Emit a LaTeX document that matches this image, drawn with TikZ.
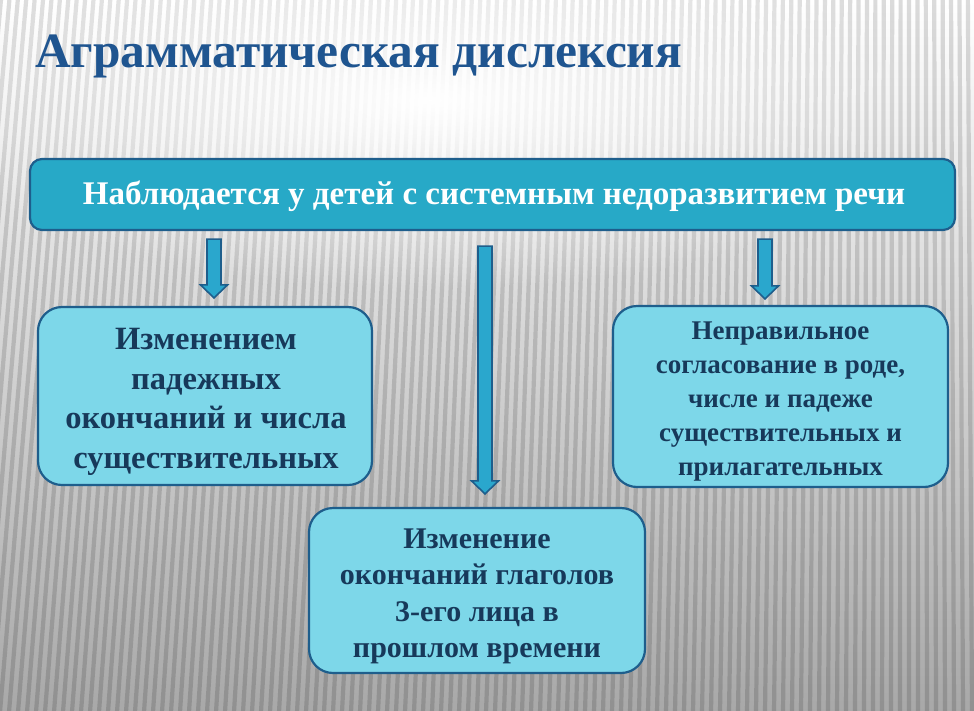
\documentclass[tikz,border=0pt]{standalone}
\usepackage{fontspec}
\usepackage{graphicx}
\setmainfont{Liberation Serif}
\usetikzlibrary{fadings,calc}
\definecolor{bordc}{HTML}{1E5E8C}
\definecolor{barfill}{HTML}{27A9C7}
\definecolor{boxfill}{HTML}{7DD7E9}
\definecolor{boxtext}{HTML}{17395A}
\definecolor{titlec}{HTML}{1F5590}
\definecolor{arrfill}{HTML}{2AA7CD}
\tikzfading[name=glowfade, inner color=transparent!0, outer color=transparent!100]
\tikzset{
  bar/.style={draw=bordc, line width=2.2pt, fill=barfill, rounded corners=12pt,
    minimum width=925pt, minimum height=71pt, inner sep=0pt},
  leaf/.style={draw=bordc, line width=2.2pt, fill=boxfill, rounded corners=24pt,
    inner sep=0pt},
  leaftext/.style={align=center, inner sep=0pt, text=boxtext},
  arrowsty/.style={draw=bordc, line width=1.6pt, fill=arrfill, line join=miter},
  stripe/.style={black, opacity=0.14, line width=4.2pt}
}
\newcommand\blockarrow[2]{%
  \path[arrowsty] let \p1=(#1), \p2=(#2) in
   (\x1-7pt,\y1) -- (\x1+7pt,\y1) -- (\x1+7pt,\y2+13pt) -- (\x1+13.5pt,\y2+13pt)
   -- (\x1,\y2) -- (\x1-13.5pt,\y2+13pt) -- (\x1-7pt,\y2+13pt) -- cycle;}
\begin{document}
\begin{tikzpicture}[x=1pt,y=-1pt]
\useasboundingbox (0,0) rectangle (974,710);
% background
\shade[top color=white, middle color=gray!28, bottom color=gray!68] (0,0) rectangle (974,710);
\begin{scope}
\clip (0,0) rectangle (974,710);
\foreach \i in {-10,...,115}{
  \pgfmathsetmacro\xb{\i*9}
  \pgfmathsetmacro\xt{\xb+60-\xb*0.066}
  \draw[stripe] (\xb,712) -- (\xt,-2);
}
\fill[white, path fading=glowfade] (430,100) ellipse [x radius=520, y radius=190];
\end{scope}
% title
\node[anchor=base west, text=titlec, inner sep=0pt] (title) at (35,67)
  {\resizebox{647pt}{!}{\fontsize{50}{50}\selectfont\bfseries Аграмматическая дислексия}};
% top bar
\node[bar] (bar) at (492.5,194.5) {};
\node[text=white!95, inner sep=0pt] (bartext) at (494,196)
  {\resizebox{822pt}{!}{\fontsize{32}{32}\selectfont\bfseries Наблюдается у детей с системным недоразвитием речи}};
% boxes
\node[leaf, minimum width=334pt, minimum height=178pt] (lbox) at (205,396) {};
\node[leaftext, font=\fontsize{32.5}{39.5}\selectfont\bfseries] (ltext)
  at ($(lbox.center)+(1,6)$)
  {Изменением\\падежных\\окончаний и числа\\существительных};
\node[leaf, minimum width=335pt, minimum height=181pt] (rbox) at (780.5,396.5) {};
\node[leaftext, font=\fontsize{27}{34.2}\selectfont\bfseries] (rtext)
  at ($(rbox.center)+(0,5)$)
  {Неправильное\\согласование в роде,\\числе и падеже\\существительных и\\прилагательных};
\node[leaf, minimum width=336pt, minimum height=165pt] (bbox) at (477,590.5) {};
\node[leaftext, font=\fontsize{30}{36.5}\selectfont\bfseries] (btext)
  at ($(bbox.center)+(0,6)$)
  {Изменение\\окончаний глаголов\\3-его лица в\\прошлом времени};
% arrows
\coordinate (a1s) at ($(bar.south -| 214,0)+(0,8)$);
\coordinate (a1e) at ($(lbox.north -| 214,0)+(0,-8)$);
\coordinate (a2s) at ($(bar.south -| 485,0)+(0,15)$);
\coordinate (a2e) at ($(bbox.north -| 485,0)+(0,-13)$);
\coordinate (a3s) at ($(bar.south -| 765,0)+(0,8)$);
\coordinate (a3e) at ($(rbox.north -| 765,0)+(0,-6)$);
\blockarrow{a1s}{a1e}
\blockarrow{a2s}{a2e}
\blockarrow{a3s}{a3e}
\end{tikzpicture}
\end{document}
